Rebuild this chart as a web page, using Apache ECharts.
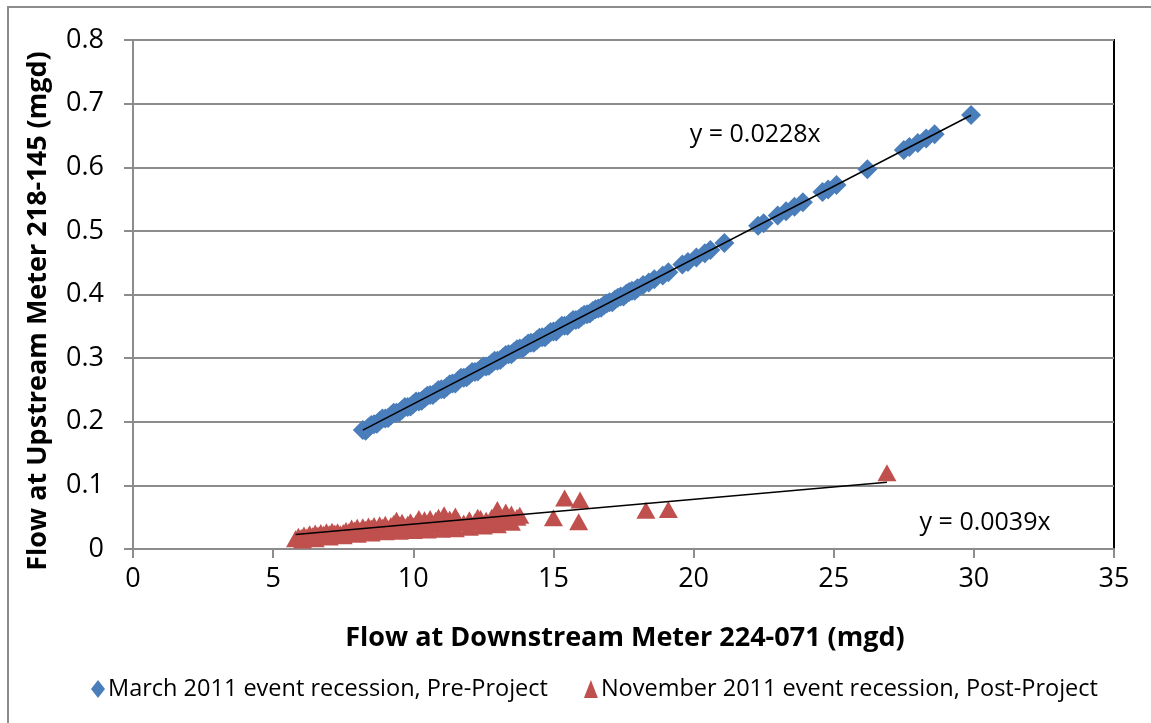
<!DOCTYPE html>
<html>
<head>
<meta charset="utf-8">
<script src="https://cdn.jsdelivr.net/npm/echarts@6/dist/echarts.min.js"></script>
<style>
  html, body { margin: 0; padding: 0; background: #fff; }
  #chart { width: 1151px; height: 723px; }
</style>
</head>
<body>
<div id="chart"></div>
<script>
// Pre-project recession, March 2011: [downstream mgd, upstream mgd]
const marchPoints = [
  [8.2,0.187],[8.3,0.186],[8.4,0.191],[8.5,0.195],[8.6,0.196],[8.7,0.197],[8.8,0.201],[8.9,0.205],
  [9.0,0.205],[9.1,0.206],[9.2,0.210],[9.3,0.214],[9.4,0.214],[9.5,0.215],[9.6,0.219],[9.7,0.223],
  [9.8,0.223],[9.9,0.224],[10.0,0.228],[10.1,0.232],[10.2,0.232],[10.3,0.233],[10.4,0.237],[10.5,0.241],
  [10.6,0.242],[10.7,0.242],[10.8,0.246],[10.9,0.250],[11.0,0.251],[11.1,0.251],[11.2,0.255],[11.3,0.259],
  [11.4,0.260],[11.5,0.260],[11.6,0.265],[11.7,0.269],[11.8,0.269],[11.9,0.270],[12.0,0.274],[12.1,0.278],
  [12.2,0.278],[12.3,0.279],[12.4,0.283],[12.5,0.287],[12.6,0.287],[12.7,0.288],[12.8,0.292],[12.9,0.296],
  [13.0,0.296],[13.1,0.297],[13.2,0.301],[13.3,0.305],[13.4,0.306],[13.5,0.306],[13.6,0.310],[13.7,0.314],
  [13.8,0.315],[13.9,0.315],[14.0,0.319],[14.1,0.323],[14.2,0.324],[14.3,0.324],[14.4,0.328],[14.5,0.332],
  [14.6,0.333],[14.7,0.333],[14.8,0.337],[14.9,0.341],[15.0,0.342],[15.1,0.342],[15.2,0.347],[15.3,0.351],
  [15.4,0.351],[15.5,0.351],[15.6,0.356],[15.7,0.360],[15.8,0.360],[15.9,0.361],[16.0,0.365],[16.1,0.368],
  [16.2,0.369],[16.3,0.370],[16.4,0.374],[16.5,0.377],[16.6,0.378],[16.7,0.379],[16.8,0.383],[16.9,0.386],
  [17.0,0.388],[17.1,0.388],[17.2,0.392],[17.3,0.395],[17.4,0.397],[17.5,0.397],[17.6,0.401],[17.7,0.404],
  [17.8,0.406],[17.9,0.406],[18.0,0.410],[18.2,0.415],[18.4,0.419],[18.6,0.424],[18.9,0.430],[19.1,0.435],
  [19.6,0.447],[19.8,0.451],[20.1,0.458],[20.4,0.465],[20.6,0.470],[21.1,0.481],[22.3,0.508],[22.5,0.512],
  [23.0,0.524],[23.3,0.531],[23.6,0.538],[23.9,0.545],[24.6,0.561],[24.8,0.565],[25.1,0.572],[26.2,0.597],
  [27.5,0.627],[27.7,0.632],[28.0,0.638],[28.3,0.645],[28.6,0.652],[29.9,0.682]
];

// Post-project recession, November 2011: [downstream mgd, upstream mgd]
const novemberPoints = [
  [5.8,0.016],[5.9,0.020],[6.0,0.018],[6.05,0.014],[6.1,0.022],[6.2,0.019],[6.3,0.024],[6.4,0.021],
  [6.5,0.025],[6.5,0.016],[6.6,0.022],[6.7,0.026],[6.8,0.023],[6.9,0.027],[7.0,0.024],[7.0,0.019],
  [7.1,0.028],[7.2,0.025],[7.3,0.027],[7.4,0.024],[7.5,0.026],[7.5,0.021],[7.6,0.029],[7.7,0.027],
  [7.8,0.033],[7.9,0.030],[8.0,0.034],[8.0,0.023],[8.1,0.029],[8.2,0.035],[8.3,0.031],[8.4,0.036],
  [8.5,0.033],[8.5,0.025],[8.6,0.037],[8.7,0.030],[8.8,0.038],[8.9,0.034],[9.0,0.039],[9.0,0.027],
  [9.1,0.032],[9.2,0.037],[9.3,0.040],[9.4,0.034],[9.4,0.045],[9.5,0.038],[9.5,0.028],[9.6,0.042],
  [9.7,0.035],[9.8,0.039],[9.9,0.043],[10.0,0.036],[10.0,0.029],[10.1,0.041],[10.2,0.044],[10.2,0.048],
  [10.3,0.037],[10.4,0.046],[10.5,0.040],[10.5,0.030],[10.6,0.048],[10.7,0.038],[10.8,0.045],[10.9,0.050],
  [11.0,0.042],[11.0,0.031],[11.1,0.054],[11.2,0.040],[11.3,0.047],[11.4,0.038],[11.5,0.052],[11.5,0.032],
  [11.6,0.044],[11.8,0.041],[12.0,0.046],[12.0,0.034],[12.2,0.043],[12.3,0.050],[12.4,0.048],[12.5,0.036],
  [12.6,0.045],[12.8,0.050],[12.9,0.040],[13.0,0.062],[13.0,0.038],[13.1,0.045],[13.3,0.052],[13.3,0.058],
  [13.5,0.055],[13.5,0.042],[13.7,0.050],[13.8,0.053],
  [15.0,0.049],[15.4,0.080],[15.9,0.043],[15.95,0.077],[18.3,0.061],[19.1,0.062],[26.9,0.120]
];

// Zero-intercept trendline slopes
const marchSlope = 0.0228;
const novemberSlope = 0.0039;

const marchName = 'March 2011 event recession, Pre-Project';
const novemberName = 'November 2011 event recession, Post-Project';

const xTicks = { min: 0, max: 35, interval: 5 };
const yTicks = { min: 0, max: 0.8, interval: 0.1 };

const FONT = '"Open Sans", "DejaVu Sans", sans-serif';

function trend(points, slope) {
  const xs = points.map(p => p[0]);
  const lo = Math.min(...xs), hi = Math.max(...xs);
  return [[lo, slope * lo], [hi, slope * hi]];
}

const chart = echarts.init(document.getElementById('chart'), null, { renderer: 'canvas' });

const option = {
  backgroundColor: '#ffffff',
  animation: false,
  grid: {
    left: 133, top: 40, right: 37, bottom: 174,
    show: true, borderColor: '#000000', borderWidth: 2, backgroundColor: 'transparent'
  },
  xAxis: {
    type: 'value', min: xTicks.min, max: xTicks.max, interval: xTicks.interval,
    axisLine: { show: true, onZero: false, lineStyle: { color: '#8c8c8c', width: 2 } },
    axisTick: { show: true, inside: false, length: 9, lineStyle: { color: '#8c8c8c', width: 2 } },
    axisLabel: { color: '#000', fontFamily: FONT, fontSize: 27, margin: 17 },
    splitLine: { show: false }
  },
  yAxis: {
    type: 'value', min: yTicks.min, max: yTicks.max, interval: yTicks.interval,
    axisLine: { show: true, onZero: false, lineStyle: { color: '#8c8c8c', width: 2 } },
    axisTick: { show: true, inside: false, length: 9, lineStyle: { color: '#8c8c8c', width: 2 } },
    axisLabel: { color: '#000', fontFamily: FONT, fontSize: 27, margin: 29 },
    splitLine: { show: true, lineStyle: { color: '#8c8c8c', width: 2 } }
  },
  legend: {
    left: 86, top: 672,
    itemWidth: 14, itemHeight: 18, itemGap: 36,
    textStyle: { fontFamily: FONT, fontSize: 23.5, color: '#000', padding: [0, 0, 0, -2] },
    data: [
      { name: marchName, icon: 'diamond' },
      { name: novemberName, icon: 'triangle' }
    ]
  },
  series: [
    {
      name: marchName, type: 'scatter', data: marchPoints,
      symbol: 'diamond', symbolSize: 20,
      itemStyle: { color: '#4a7ebb', opacity: 1 }, z: 2
    },
    {
      name: novemberName, type: 'scatter', data: novemberPoints,
      symbol: 'triangle', symbolSize: [19, 17],
      itemStyle: { color: '#c0504d', opacity: 1 }, z: 2
    },
    {
      name: 'march-trend', type: 'line', data: trend(marchPoints, marchSlope),
      symbol: 'none', lineStyle: { color: '#000', width: 1.5 }, z: 5, silent: true
    },
    {
      name: 'november-trend', type: 'line', data: trend(novemberPoints, novemberSlope),
      symbol: 'none', lineStyle: { color: '#000', width: 1.5 }, z: 5, silent: true
    }
  ]
};
chart.setOption(option);

// Titles, equations and the outer chart frame
const eq1 = chart.convertToPixel({ gridIndex: 0 }, [22.2, 0.651]);
const eq2 = chart.convertToPixel({ gridIndex: 0 }, [30.4, 0.041]);
chart.setOption({
  graphic: [
    {
      type: 'rect', shape: { x: 8, y: 7, width: 1200, height: 800 },
      style: { fill: 'none', stroke: '#8c8c8c', lineWidth: 2 }, z: -10, silent: true
    },
    {
      type: 'text', x: eq1[0], y: eq1[1],
      style: { text: 'y = ' + marchSlope + 'x', font: '25px ' + FONT, fill: '#000', align: 'center', verticalAlign: 'middle' }
    },
    {
      type: 'text', x: eq2[0], y: eq2[1],
      style: { text: 'y = ' + novemberSlope + 'x', font: '25px ' + FONT, fill: '#000', align: 'center', verticalAlign: 'middle' }
    },
    {
      type: 'text', x: 625, y: 638,
      style: { text: 'Flow at Downstream Meter 224-071 (mgd)', font: 'bold 27px ' + FONT, fill: '#000', align: 'center', verticalAlign: 'middle' }
    },
    {
      type: 'text', x: 38, y: 311, rotation: Math.PI / 2,
      style: { text: 'Flow at Upstream Meter 218-145 (mgd)', font: 'bold 27px ' + FONT, fill: '#000', align: 'center', verticalAlign: 'middle' }
    }
  ]
});
</script>
</body>
</html>
